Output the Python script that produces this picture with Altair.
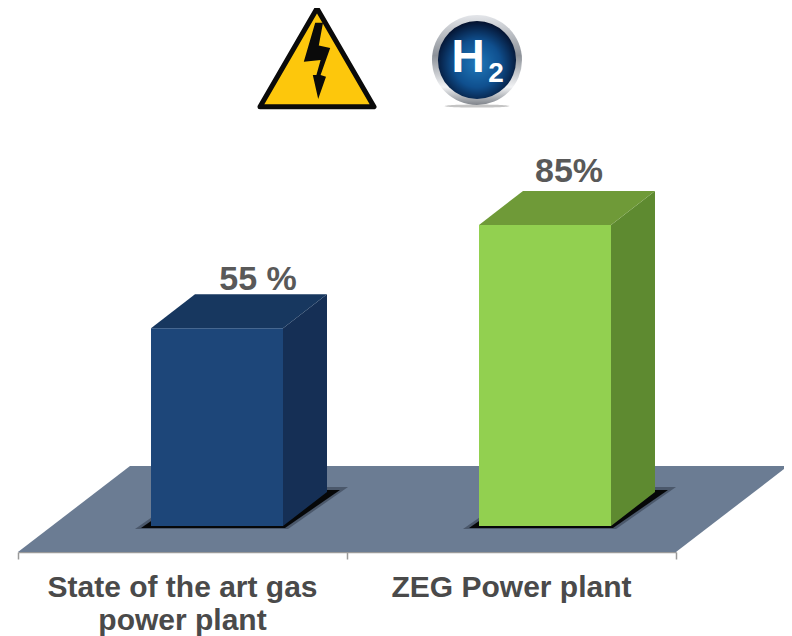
import altair as alt
import pandas as pd

# --- values ---
categories = ["State of the art gas\npower plant", "ZEG Power plant"]
bar_values = [55.7, 84.8]
bar_labels = ["55 %", "85%"]
front_colors = ["#1d4679", "#92d050"]
top_colors = ["#17375f", "#6f9a38"]
side_colors = ["#152f55", "#5e8a30"]

PX = 329.0    # pixels per x unit
PY = 3.55     # pixels per percent
W, H = 658, 544
FONT = "Liberation Sans"

def ux(px):      # reference-picture x to data
    return (px - 18) / PX

def uy(py):      # reference-picture y to data
    return (526 - py) / PY

DX = 44 / PX
DY = 34 / PY
BAR_W = 132 / PX
bar_left = [ux(151), ux(479)]
cat_x = [0.5, 1.5]
label_x = [ux(258), ux(569)]
label_y = [uy(290), uy(182)]

xs = alt.Scale(domain=[0, 2], nice=False, zero=False)
ys = alt.Scale(domain=[uy(552), uy(8)], nice=False, zero=False)
X = alt.X("x:Q", scale=xs, title=None,
          axis=alt.Axis(values=[0, 1, 2], labels=False, grid=False, domain=True, ticks=True,
                        tickSize=7, tickColor="#9a9a9a", domainColor="#9a9a9a",
                        domainWidth=1.5, tickWidth=1.5))
Y = alt.Y("y:Q", scale=ys, title=None, axis=None)
Y2 = alt.Y2("y2:Q")


def para(left, right, bottom, dx, dy):
    """Parallelogram seen from above: front edge left-right at bottom, shifted by dx, dy at the back."""
    return pd.DataFrame({
        "x": [left, left + dx, right, right + dx],
        "y": [bottom, bottom + dy, bottom + dy, bottom + dy],
        "y2": [bottom, bottom, bottom, bottom + dy],
    })


def side(right, bottom, top, dx, dy):
    return pd.DataFrame({
        "x": [right, right + dx],
        "y": [top, top + dy],
        "y2": [bottom, bottom + dy],
    })


def area(df, color, opacity=1.0):
    return alt.Chart(df).mark_area(color=color, opacity=opacity, interpolate="linear",
                                   clip=False, strokeWidth=0).encode(x=X, y=Y, y2=Y2)


def sym(px, py, path, size, **kw):
    kw.setdefault("opacity", 1)
    df = pd.DataFrame({"x": [ux(px)], "y": [uy(py)]})
    return alt.Chart(df).mark_point(shape=path, size=size, filled=True, clip=False, **kw).encode(x=X, y=Y)


def label(px, py, txt, size, color, **kw):
    df = pd.DataFrame({"x": [ux(px)], "y": [uy(py)], "t": [txt]})
    return alt.Chart(df).mark_text(font=FONT, fontWeight="bold", fontSize=size, color=color,
                                   align="center", baseline="alphabetic", **kw).encode(
        x=X, y=Y, text="t:N")


layers = []

# floor
layers.append(area(para(0, 2, uy(552), ux(130), uy(466) - uy(552)), "#6b7c93"))

# bars
for i, v in enumerate(bar_values):
    l, r = bar_left[i], bar_left[i] + BAR_W
    # soft shadow on the floor
    layers.append(area(para(l - 16 / PX, r + 5 / PX, -3 / PY, 60 / PX, 42 / PY), "#1c2430", 0.4))
    layers.append(area(para(l - 10 / PX, r + 2 / PX, -2 / PY, 55 / PX, 38 / PY), "#000000", 0.92))
    # faces
    layers.append(area(side(r, 0, v, DX, DY), side_colors[i]))
    layers.append(area(para(l, r, v, DX, DY), top_colors[i]))
    front = pd.DataFrame({"x": [l], "x2": [r], "y": [0.0], "y2": [v]})
    layers.append(alt.Chart(front).mark_rect(color=front_colors[i]).encode(
        x=X, x2="x2:Q", y=Y, y2=Y2))

# value labels
labels = pd.DataFrame({"x": label_x, "y": label_y, "t": bar_labels})
layers.append(alt.Chart(labels).mark_text(font=FONT, fontWeight="bold", fontSize=34, color="#595959",
                                          align="center", baseline="alphabetic").encode(
    x=X, y=Y, text="t:N"))

# category labels
cats = pd.DataFrame({"x": cat_x, "y": [uy(597)] * 2, "t": categories})
layers.append(alt.Chart(cats).mark_text(font=FONT, fontWeight="bold", fontSize=30, color="#4a4a4a",
                                        align="center", baseline="alphabetic", lineBreak="\n",
                                        lineHeight=33).encode(x=X, y=Y, text="t:N"))

# warning icon
TRI = "M0,-0.86 L0.95,0.78 L-0.95,0.78 Z"
BOLT = ("M-0.03,-0.62 L0.1,-0.62 L0.03,-0.24 L0.22,-0.2 L0.06,0.25 L0.15,0.28 "
        "L0.02,0.65 L-0.07,0.25 L-0.01,0.25 L0.06,0 L-0.22,0.03 Z")
layers.append(sym(317, 60, TRI, 14400, fill="#fdc70c", stroke="#0a0a0a", strokeWidth=5, strokeJoin="round"))
layers.append(sym(317, 60, BOLT, 14400, fill="#0a0a0a"))

# hydrogen icon
silver = alt.LinearGradient(gradient="linear", x1=0, y1=0, x2=0, y2=1, stops=[
    alt.GradientStop(color="#e4e6ea", offset=0),
    alt.GradientStop(color="#8d9299", offset=0.45),
    alt.GradientStop(color="#f2f3f5", offset=0.8),
    alt.GradientStop(color="#7e838a", offset=1)])
blue = alt.RadialGradient(gradient="radial", x1=0.5, y1=0.55, x2=0.5, y2=0.55, r1=0, r2=0.55, stops=[
    alt.GradientStop(color="#1f78ba", offset=0),
    alt.GradientStop(color="#0f4f8e", offset=0.55),
    alt.GradientStop(color="#04102c", offset=1)])
ELL = "M-1,0 A1,0.05 0 1 1 1,0 A1,0.05 0 1 1 -1,0 Z"
layers.append(sym(477, 106, ELL, 4200, fill="#b5b5b5", opacity=0.8))
layers.append(sym(477, 60, "circle", 8100, fill=silver))
layers.append(sym(477, 60, "circle", 6100, fill=blue))
layers.append(label(468, 72, "H", 46, "#ffffff"))
layers.append(label(496, 82, "2", 28, "#ffffff"))

chart = alt.layer(*layers).properties(
    width=W, height=H, background="#ffffff",
    padding={"left": 10, "top": 0, "right": 108, "bottom": 84},
    autosize=alt.AutoSizeParams(type="none"),
).configure_view(stroke=None)

chart.save("out.html", embed_options={"renderer": "svg", "actions": False})
